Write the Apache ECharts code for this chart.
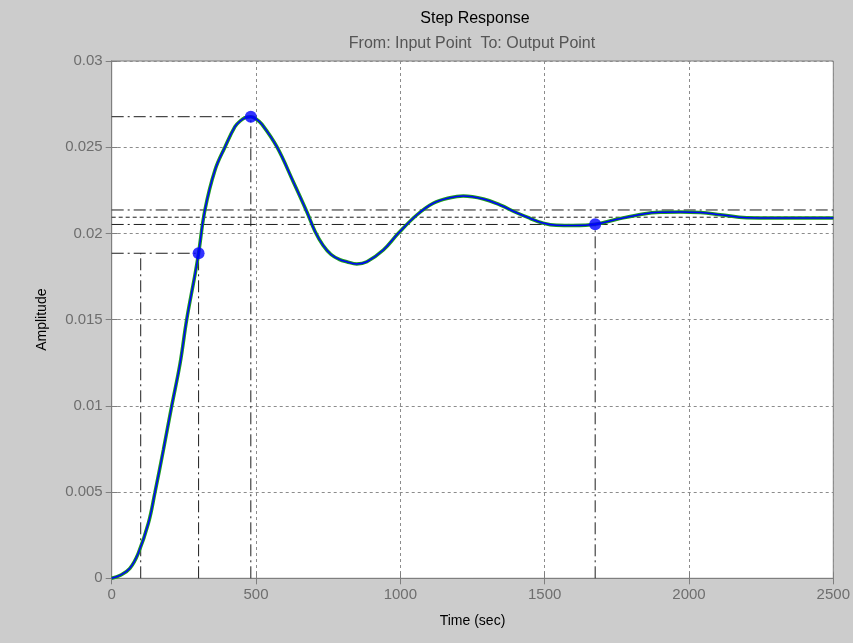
<!DOCTYPE html>
<html>
<head>
<meta charset="utf-8">
<title>Step Response</title>
<script src="https://cdn.jsdelivr.net/npm/echarts@6/dist/echarts.min.js"></script>
<style>
  html, body { margin: 0; padding: 0; background: #cccccc; }
  #chart { width: 853px; height: 643px; }
</style>
</head>
<body>
<div id="chart"></div>
<script>
// Step response samples (time in seconds, amplitude)
const timeSec = [0, 30, 63, 92, 127, 150, 179, 208, 237, 260, 289, 301, 323, 358, 393, 427, 445, 465, 482,
  500, 520, 572, 629, 676, 705, 732, 760, 790, 814, 849, 884, 941, 993, 1057, 1114, 1172, 1218, 1288, 1345, 1403,
  1449, 1490, 1540, 1600, 1675, 1750, 1842, 1900, 1970, 2039, 2108, 2200, 2300, 2400, 2500];
const amplitude = [0, 0.00018, 0.00058, 0.00145, 0.00319, 0.00499, 0.00744, 0.0100, 0.01247, 0.01502,
  0.01765, 0.01885, 0.02136, 0.02368, 0.02503, 0.02619, 0.02652, 0.02673, 0.02677,
  0.02664, 0.02634, 0.02503, 0.0230, 0.02126, 0.02010, 0.01932, 0.01878, 0.01848, 0.01836, 0.01823, 0.01836,
  0.01904, 0.02001, 0.02107, 0.02175, 0.02207, 0.02217, 0.02200, 0.02165, 0.02120,
  0.02088, 0.02062, 0.02047, 0.02046, 0.02053, 0.02082, 0.02113, 0.02123, 0.02125, 0.02121, 0.02109,
  0.02091, 0.02090, 0.02090, 0.02090];

// Response characteristics
const finalValue = 0.02094;
const settleBand = [0.02052, 0.02136];
const riseTimes = [100.5, 301];
const riseLevel = 0.01885;
const peakPoint = [482, 0.02677];
const settlePoint = [1675, 0.02053];

// Axis ticks
const xTicks = [0, 500, 1000, 1500, 2000, 2500];
const yTicks = [0, 0.005, 0.01, 0.015, 0.02, 0.025, 0.03];

const curve = timeSec.map((t, i) => [t, amplitude[i]]);
const xMax = xTicks[xTicks.length - 1];
const yMax = yTicks[yTicks.length - 1];

const dashDot = [12, 4, 2, 4];
const charColor = '#1e1e1e';
const fontFamily = 'Liberation Sans, Arial, sans-serif';

function guide(data, dash) {
  return {
    type: 'line', data: data, symbol: 'none', silent: true, z: 3,
    lineStyle: { color: charColor, width: 1, type: dash || dashDot }
  };
}

const chart = echarts.init(document.getElementById('chart'), null, { renderer: 'canvas' });
const axisGrey = '#7f7f7f';
const tickFont = { color: '#6e6e6e', fontSize: 15, fontFamily: fontFamily };

chart.setOption({
  backgroundColor: '#cccccc',
  animation: false,
  title: [
    { text: 'Step Response', left: 470, top: 6, textAlign: 'center',
      textStyle: { color: '#000', fontSize: 16, fontWeight: 'normal', fontFamily: fontFamily } },
    { text: 'From: Input Point  To: Output Point', left: 467, top: 31, textAlign: 'center',
      textStyle: { color: '#555555', fontSize: 16, fontWeight: 'normal', fontFamily: fontFamily } }
  ],
  grid: { left: 111.7, right: 19.7, top: 61, bottom: 64.7, show: true,
    backgroundColor: '#ffffff', borderColor: axisGrey, borderWidth: 1 },
  xAxis: [
    { type: 'value', min: xTicks[0], max: xMax, interval: 500, position: 'bottom',
      name: 'Time (sec)', nameLocation: 'middle', nameGap: 36,
      nameTextStyle: { color: '#000', fontSize: 14, fontFamily: fontFamily },
      axisLine: { show: true, lineStyle: { color: axisGrey } },
      axisTick: { show: true, inside: true, length: 6, lineStyle: { color: axisGrey } },
      axisLabel: Object.assign({ margin: 9, formatter: v => String(v) }, tickFont),
      splitLine: { show: true, lineStyle: { color: '#8c8c8c', type: [3, 3], width: 1 } } },
    { type: 'value', min: xTicks[0], max: xMax, interval: 500, position: 'top',
      axisLine: { show: true, lineStyle: { color: axisGrey } },
      axisTick: { show: true, inside: true, length: 6, lineStyle: { color: axisGrey } },
      axisLabel: { show: false }, splitLine: { show: false } }
  ],
  yAxis: [
    { type: 'value', min: yTicks[0], max: yMax, interval: 0.005, position: 'left',
      name: 'Amplitude', nameLocation: 'middle', nameGap: 63, nameRotate: 90,
      nameTextStyle: { color: '#000', fontSize: 14, fontFamily: fontFamily },
      axisLine: { show: true, lineStyle: { color: axisGrey } },
      axisTick: { show: true, inside: true, length: 6, lineStyle: { color: axisGrey } },
      axisLabel: Object.assign({ margin: 9, formatter: v => String(parseFloat(v.toFixed(3))) }, tickFont),
      splitLine: { show: true, lineStyle: { color: '#8c8c8c', type: [3, 3], width: 1 } } },
    { type: 'value', min: yTicks[0], max: yMax, interval: 0.005, position: 'right',
      axisLine: { show: true, lineStyle: { color: axisGrey } },
      axisTick: { show: true, inside: true, length: 6, lineStyle: { color: axisGrey } },
      axisLabel: { show: false }, splitLine: { show: false } }
  ],
  series: [
    // settling band and steady-state value
    guide([[0, settleBand[1]], [xMax, settleBand[1]]]),
    guide([[0, settleBand[0]], [xMax, settleBand[0]]]),
    guide([[0, finalValue], [xMax, finalValue]], [4, 3]),
    // rise time
    guide([[0, riseLevel], [riseTimes[1], riseLevel]]),
    guide([[riseTimes[0], 0], [riseTimes[0], riseLevel]]),
    guide([[riseTimes[1], 0], [riseTimes[1], riseLevel]]),
    // peak response
    guide([[0, peakPoint[1]], peakPoint]),
    guide([[peakPoint[0], 0], peakPoint]),
    // settling time
    guide([[settlePoint[0], 0], settlePoint]),
    // response curve
    { type: 'line', data: curve, symbol: 'none', smooth: 0.4, z: 4,
      lineStyle: { color: '#1f9a1f', width: 3.5 } },
    { type: 'line', data: curve, symbol: 'none', smooth: 0.4, z: 5,
      lineStyle: { color: '#0000ff', width: 1.5 } },
    // characteristic points
    { type: 'scatter', data: [[riseTimes[1], riseLevel], peakPoint, settlePoint],
      symbol: 'circle', symbolSize: 12, z: 6, itemStyle: { color: '#0000ff' } }
  ]
});
</script>
</body>
</html>
